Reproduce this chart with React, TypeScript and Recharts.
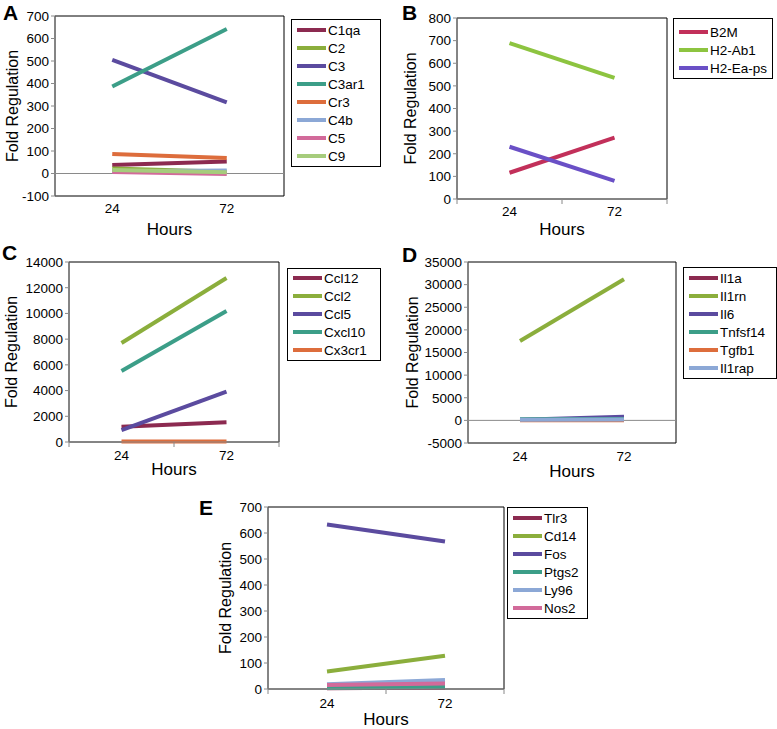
import React from 'react'
import { LineChart, Line, XAxis, YAxis, ReferenceArea, ReferenceLine, Legend, Label } from 'recharts'

const FONT = '"Liberation Sans", Arial, Helvetica, sans-serif'

const hours = ['24', '72']

// shared palette (Excel-ish)
const maroon = '#8C2A50'
const olive = '#8BAE3C'
const purple = '#5B4B9F'
const teal = '#3C9E88'
const orange = '#DD6D3C'
const lightBlue = '#8CA8D6'
const pink = '#D26A9A'
const lightGreen = '#A6CC7C'

// A: complement
const complementGenes = ['C1qa', 'C2', 'C3', 'C3ar1', 'Cr3', 'C4b', 'C5', 'C9']
const complement24 = [38, 22, 505, 387, 87, 10, 7, 16]
const complement72 = [53, 8, 316, 642, 69, 13, -2, 6]
const complementColors = [maroon, olive, purple, teal, orange, lightBlue, pink, lightGreen]
const complementTicks = [-100, 0, 100, 200, 300, 400, 500, 600, 700]

// B: MHC
const mhcGenes = ['B2M', 'H2-Ab1', 'H2-Ea-ps']
const mhc24 = [116, 689, 231]
const mhc72 = [271, 535, 80]
const mhcColors = ['#C2305A', '#8DC440', '#6A50C6']
const mhcTicks = [0, 100, 200, 300, 400, 500, 600, 700, 800]

// C: chemokines
const chemokineGenes = ['Ccl12', 'Ccl2', 'Ccl5', 'Cxcl10', 'Cx3cr1']
const chemokine24 = [1190, 7700, 930, 5520, 30]
const chemokine72 = [1530, 12750, 3910, 10190, 30]
const chemokineColors = [maroon, olive, purple, teal, orange]
const chemokineTicks = [0, 2000, 4000, 6000, 8000, 10000, 12000, 14000]

// D: cytokines
const cytokineGenes = ['Il1a', 'Il1rn', 'Il6', 'Tnfsf14', 'Tgfb1', 'Il1rap']
const cytokine24 = [80, 17550, 150, 250, 30, 150]
const cytokine72 = [250, 31180, 800, 300, 40, 200]
const cytokineColors = [maroon, olive, purple, teal, orange, lightBlue]
const cytokineTicks = [-5000, 0, 5000, 10000, 15000, 20000, 25000, 30000, 35000]

// E: TLR pathway
const tlrGenes = ['Tlr3', 'Cd14', 'Fos', 'Ptgs2', 'Ly96', 'Nos2']
const tlr24 = [3, 67, 633, 4, 18, 15]
const tlr72 = [6, 128, 567, 9, 35, 21]
const tlrColors = [maroon, olive, purple, teal, lightBlue, pink]
const tlrTicks = [0, 100, 200, 300, 400, 500, 600, 700]

type Box = { left: number; top: number; width: number; height: number }
type Margin = { top: number; right: number; bottom: number; left: number }

interface PanelProps {
  letter: string
  letterPos: { left: number; top: number }
  names: string[]
  v24: number[]
  v72: number[]
  colors: string[]
  ticks: number[]
  zeroLine: boolean
  box: Box
  margin: Margin
  yAxisWidth: number
  yLabelX: number
  tickDy: number
  hoursY: number
  legend: { left: number; top: number; width: number; padTop: number }
}

function Panel(p: PanelProps) {
  const data = hours.map((h, i) => {
    const row: Record<string, string | number> = { hour: h }
    p.names.forEach((n, j) => {
      row[n] = i === 0 ? p.v24[j] : p.v72[j]
    })
    return row
  })
  const yMin = p.ticks[0]
  const yMax = p.ticks[p.ticks.length - 1]
  const plotLeft = p.margin.left + p.yAxisWidth
  const plotW = p.box.width - plotLeft - p.margin.right
  const plotH = p.box.height - p.margin.top - p.margin.bottom - 30
  const half = plotW / 4
  const cx = plotLeft + plotW / 2
  const cy = p.margin.top + plotH / 2

  const xTick = (t: any) => {
    const last = t.index === hours.length - 1
    return (
      <g>
        {!p.zeroLine && <line x1={t.x - half} x2={t.x - half} y1={t.y} y2={t.y + 5} stroke="#888" />}
        {!p.zeroLine && last && <line x1={t.x + half} x2={t.x + half} y1={t.y} y2={t.y + 5} stroke="#888" />}
        <text x={t.x} y={t.y + p.tickDy} textAnchor="middle" fontSize={13.5} fontFamily={FONT} fill="#000">
          {t.payload.value}
        </text>
      </g>
    )
  }

  const legendContent = (props: any) => {
    // keep the series order, not alphabetical
    const items = [...(props.payload ?? [])].sort(
      (a: any, b: any) => p.names.indexOf(String(a.dataKey)) - p.names.indexOf(String(b.dataKey))
    )
    return (
      <div
        style={{
          border: '1px solid #000',
          background: '#fff',
          width: p.legend.width,
          boxSizing: 'border-box',
          padding: `${p.legend.padTop}px 0 1px 0`,
          fontFamily: FONT,
          fontSize: 13.5,
          color: '#000',
        }}
      >
        {items.map((e: any) => (
          <div key={e.value} style={{ display: 'flex', alignItems: 'center', height: 18 }}>
            <svg width={29} height={6} style={{ marginLeft: 5, marginRight: 2 }}>
              <line x1={0} y1={3} x2={29} y2={3} stroke={e.color} strokeWidth={4} />
            </svg>
            <span>{e.value}</span>
          </div>
        ))}
      </div>
    )
  }

  return (
    <div style={{ position: 'absolute', left: p.box.left, top: p.box.top, width: p.box.width, height: p.box.height }}>
      <LineChart width={p.box.width} height={p.box.height} data={data} margin={p.margin}>
        <ReferenceArea y1={yMin} y2={yMax} fill="none" stroke="#000" strokeWidth={1} />
        {p.zeroLine && <ReferenceLine y={0} stroke="#8a8a8a" strokeWidth={1} />}
        <XAxis
          dataKey="hour"
          scale="band"
          height={30}
          interval={0}
          axisLine={p.zeroLine ? false : { stroke: '#8a8a8a' }}
          tickLine={false}
          tickSize={0}
          tickMargin={0}
          tick={xTick}
        >
          <Label
            content={() => (
              <text x={cx} y={p.hoursY} textAnchor="middle" fontSize={17} fontFamily={FONT} fill="#000">
                Hours
              </text>
            )}
          />
        </XAxis>
        <YAxis
          type="number"
          domain={[yMin, yMax]}
          ticks={p.ticks}
          interval={0}
          width={p.yAxisWidth}
          axisLine={{ stroke: '#8a8a8a' }}
          tickLine={{ stroke: '#8a8a8a' }}
          tickSize={4}
          tickMargin={2}
          tick={{ fill: '#000', fontSize: 13.5, fontFamily: FONT }}
        >
          <Label
            content={() => (
              <text
                x={p.yLabelX}
                y={cy}
                transform={`rotate(-90, ${p.yLabelX}, ${cy})`}
                textAnchor="middle"
                dominantBaseline="central"
                fontSize={16}
                fontFamily={FONT}
                fill="#000"
              >
                Fold Regulation
              </text>
            )}
          />
        </YAxis>
        {p.names.map((n, j) => (
          <Line
            key={n}
            type="linear"
            dataKey={n}
            stroke={p.colors[j]}
            strokeWidth={4}
            dot={false}
            activeDot={false}
            isAnimationActive={false}
          />
        ))}
        <Legend
          layout="vertical"
          align="center"
          verticalAlign="middle"
          wrapperStyle={{ left: p.legend.left, top: p.legend.top, width: p.legend.width, height: 'auto' }}
          content={legendContent}
        />
      </LineChart>
      <div
        style={{
          position: 'absolute',
          left: p.letterPos.left,
          top: p.letterPos.top,
          fontFamily: FONT,
          fontWeight: 'bold',
          fontSize: 21,
          lineHeight: '21px',
          color: '#000',
        }}
      >
        {p.letter}
      </div>
    </div>
  )
}

export default function App() {
  return (
    <div style={{ position: 'absolute', left: 0, top: 0, width: 777, height: 729, background: '#fff', overflow: 'hidden' }}>
      <Panel
        letter="A"
        letterPos={{ left: 3, top: 2 }}
        names={complementGenes}
        v24={complement24}
        v72={complement72}
        colors={complementColors}
        ticks={complementTicks}
        zeroLine
        box={{ left: 0, top: 0, width: 390, height: 240 }}
        margin={{ top: 16, right: 106, bottom: 14, left: 10 }}
        yAxisWidth={45}
        yLabelX={12}
        tickDy={17}
        hoursY={235}
        legend={{ left: 291, top: 19, width: 90, padTop: 1 }}
      />
      <Panel
        letter="B"
        letterPos={{ left: 12, top: 2 }}
        names={mhcGenes}
        v24={mhc24}
        v72={mhc72}
        colors={mhcColors}
        ticks={mhcTicks}
        zeroLine={false}
        box={{ left: 390, top: 0, width: 387, height: 240 }}
        margin={{ top: 18, right: 110, bottom: 11, left: 22 }}
        yAxisWidth={45}
        yLabelX={20}
        tickDy={17}
        hoursY={235}
        legend={{ left: 283, top: 18, width: 100, padTop: 4 }}
      />
      <Panel
        letter="C"
        letterPos={{ left: 2, top: 2 }}
        names={chemokineGenes}
        v24={chemokine24}
        v72={chemokine72}
        colors={chemokineColors}
        ticks={chemokineTicks}
        zeroLine={false}
        box={{ left: 0, top: 240, width: 390, height: 250 }}
        margin={{ top: 22, right: 111, bottom: 18, left: 24 }}
        yAxisWidth={45}
        yLabelX={11}
        tickDy={18}
        hoursY={235}
        legend={{ left: 287, top: 28, width: 94, padTop: 0 }}
      />
      <Panel
        letter="D"
        letterPos={{ left: 12, top: 4 }}
        names={cytokineGenes}
        v24={cytokine24}
        v72={cytokine72}
        colors={cytokineColors}
        ticks={cytokineTicks}
        zeroLine
        box={{ left: 390, top: 240, width: 387, height: 250 }}
        margin={{ top: 22, right: 101, bottom: 17, left: 28 }}
        yAxisWidth={50}
        yLabelX={22}
        tickDy={18}
        hoursY={237}
        legend={{ left: 293, top: 27, width: 94, padTop: 1 }}
      />
      <Panel
        letter="E"
        letterPos={{ left: -1, top: 17 }}
        names={tlrGenes}
        v24={tlr24}
        v72={tlr72}
        colors={tlrColors}
        ticks={tlrTicks}
        zeroLine={false}
        box={{ left: 200, top: 480, width: 400, height: 249 }}
        margin={{ top: 27, right: 96, bottom: 10, left: 23 }}
        yAxisWidth={45}
        yLabelX={25}
        tickDy={19}
        hoursY={245}
        legend={{ left: 307, top: 27, width: 81, padTop: 1 }}
      />
    </div>
  )
}
